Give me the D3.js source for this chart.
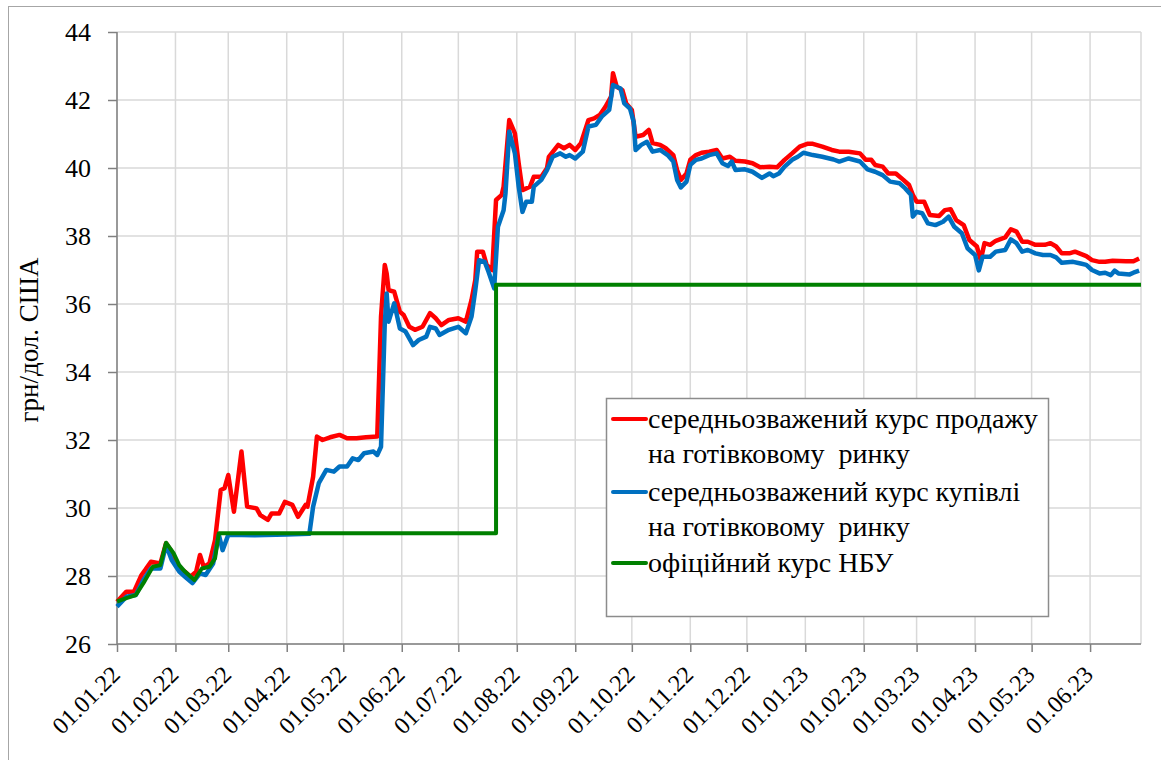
<!DOCTYPE html>
<html>
<head>
<meta charset="utf-8">
<script src="https://cdn.jsdelivr.net/npm/d3@7"></script>
<style>
  body { margin: 0; background: #fff; }
  svg text { font-family: "Liberation Serif", "Times New Roman", "DejaVu Serif", serif; fill: #000; }
</style>
</head>
<body>
<svg id="chart" width="1161" height="760"></svg>
<script>

////////// dados

// середньозважений курс продажу
const sellRate = [
  ['01.01.22',27.24],['06.01.22',27.54],['10.01.22',27.54],['14.01.22',28.03],['16.01.22',28.18],
  ['19.01.22',28.42],['24.01.22',28.37],['27.01.22',28.96],['30.01.22',28.71],['02.02.22',28.27],
  ['06.02.22',28.13],['09.02.22',27.98],['12.02.22',28.13],['14.02.22',28.62],['16.02.22',28.27],
  ['19.02.22',28.37],['22.02.22',29.06],['25.02.22',30.53],['27.02.22',30.58],['01.03.22',30.97],
  ['04.03.22',29.89],['08.03.22',31.66],['11.03.22',30.04],['16.03.22',29.99],['18.03.22',29.79],
  ['22.03.22',29.65],['24.03.22',29.84],['28.03.22',29.84],['31.03.22',30.18],['04.04.22',30.09],
  ['07.04.22',29.74],['11.04.22',30.09],['12.04.22',30.04],['15.04.22',30.92],['17.04.22',32.10],
  ['20.04.22',32.00],['24.04.22',32.08],['29.04.22',32.15],['03.05.22',32.05],['08.05.22',32.05],
  ['13.05.22',32.08],['19.05.22',32.10],['21.05.22',35.63],['23.05.22',37.15],['24.05.22',36.90],
  ['25.05.22',36.41],['28.05.22',36.36],['31.05.22',35.77],['02.06.22',35.68],['05.06.22',35.33],
  ['08.06.22',35.24],['12.06.22',35.33],['16.06.22',35.73],['19.06.22',35.58],['22.06.22',35.38],
  ['26.06.22',35.53],['01.07.22',35.58],['05.07.22',35.48],['08.07.22',36.12],['10.07.22',36.71],
  ['11.07.22',37.54],['14.07.22',37.54],['16.07.22',37.15],['19.07.22',37.00],['21.07.22',39.06],
  ['24.07.22',39.21],['25.07.22',39.45],['28.07.22',41.41],['31.07.22',41.02],['02.08.22',40.14],
  ['04.08.22',39.35],['08.08.22',39.45],['10.08.22',39.74],['14.08.22',39.74],['17.08.22',39.99],
  ['18.08.22',40.33],['23.08.22',40.68],['26.08.22',40.58],['29.08.22',40.68],['01.09.22',40.53],
  ['04.09.22',40.73],['08.09.22',41.41],['11.09.22',41.46],['14.09.22',41.56],['17.09.22',41.80],
  ['20.09.22',42.10],['21.09.22',42.79],['23.09.22',42.39],['26.09.22',42.29],['28.09.22',41.90],
  ['01.10.22',41.71],['03.10.22',40.92],['07.10.22',40.97],['10.10.22',41.12],['12.10.22',40.73],
  ['16.10.22',40.68],['19.10.22',40.58],['23.10.22',40.38],['25.10.22',39.94],['27.10.22',39.65],
  ['30.10.22',39.84],['01.11.22',40.24],['04.11.22',40.38],['07.11.22',40.45],['11.11.22',40.48],
  ['15.11.22',40.53],['18.11.22',40.28],['22.11.22',40.33],['25.11.22',40.21],['30.11.22',40.19],
  ['04.12.22',40.14],['08.12.22',40.02],['13.12.22',40.04],['17.12.22',40.02],['21.12.22',40.24],
  ['25.12.22',40.43],['29.12.22',40.63],['02.01.23',40.71],['05.01.23',40.71],['10.01.23',40.63],
  ['15.01.23',40.53],['19.01.23',40.48],['24.01.23',40.48],['30.01.23',40.43],['02.02.23',40.24],
  ['05.02.23',40.24],['07.02.23',40.09],['11.02.23',40.04],['14.02.23',39.84],['18.02.23',39.84],
  ['22.02.23',39.65],['25.02.23',39.50],['27.02.23',39.21],['01.03.23',39.01],['05.03.23',39.01],
  ['08.03.23',38.62],['13.03.23',38.59],['16.03.23',38.76],['19.03.23',38.79],['22.03.23',38.47],
  ['26.03.23',38.32],['29.03.23',37.88],['02.04.23',37.69],['04.04.23',37.29],['06.04.23',37.79],
  ['09.04.23',37.74],['12.04.23',37.86],['17.04.23',37.96],['20.04.23',38.20],['23.04.23',38.13],
  ['26.04.23',37.83],['29.04.23',37.83],['03.05.23',37.74],['08.05.23',37.74],['11.05.23',37.79],
  ['14.05.23',37.69],['17.05.23',37.49],['21.05.23',37.49],['24.05.23',37.54],['30.05.23',37.41],
  ['02.06.23',37.29],['06.06.23',37.24],['09.06.23',37.24],['13.06.23',37.27],['20.06.23',37.26],
  ['24.06.23',37.26],['27.06.23',37.34]
];

// середньозважений курс купівлі
const buyRate = [
  ['01.01.22',27.10],['06.01.22',27.39],['11.01.22',27.44],['15.01.22',27.88],['19.01.22',28.22],
  ['24.01.22',28.22],['27.01.22',28.91],['30.01.22',28.47],['03.02.22',28.13],['07.02.22',27.93],
  ['10.02.22',27.79],['14.02.22',28.08],['17.02.22',28.03],['21.02.22',28.37],['24.02.22',29.21],
  ['26.02.22',28.76],['01.03.22',29.21],['15.03.22',29.20],['01.04.22',29.22],['13.04.22',29.24],
  ['15.04.22',30.04],['18.04.22',30.73],['22.04.22',31.12],['26.04.22',31.07],['29.04.22',31.22],
  ['03.05.22',31.22],['06.05.22',31.46],['09.05.22',31.41],['12.05.22',31.61],['17.05.22',31.66],
  ['19.05.22',31.56],['21.05.22',31.80],['23.05.22',35.43],['24.05.22',36.31],['25.05.22',35.48],
  ['28.05.22',36.02],['31.05.22',35.28],['03.06.22',35.19],['07.06.22',34.79],['10.06.22',34.94],
  ['14.06.22',35.04],['16.06.22',35.33],['19.06.22',35.28],['21.06.22',35.09],['26.06.22',35.24],
  ['01.07.22',35.33],['05.07.22',35.14],['08.07.22',35.63],['10.07.22',36.41],['12.07.22',37.29],
  ['15.07.22',37.24],['17.07.22',36.95],['20.07.22',36.46],['22.07.22',38.27],['25.07.22',38.76],
  ['26.07.22',39.25],['28.07.22',41.07],['31.07.22',40.43],['02.08.22',39.45],['04.08.22',38.71],
  ['06.08.22',39.01],['09.08.22',39.01],['10.08.22',39.45],['14.08.22',39.65],['17.08.22',39.94],
  ['20.08.22',40.33],['24.08.22',40.43],['27.08.22',40.33],['29.08.22',40.38],['01.09.22',40.28],
  ['05.09.22',40.48],['08.09.22',41.22],['12.09.22',41.27],['15.09.22',41.51],['19.09.22',41.71],
  ['21.09.22',42.44],['25.09.22',42.34],['27.09.22',41.90],['30.09.22',41.75],['02.10.22',41.36],
  ['03.10.22',40.53],['06.10.22',40.68],['09.10.22',40.77],['12.10.22',40.48],['16.10.22',40.53],
  ['20.10.22',40.38],['23.10.22',40.19],['25.10.22',39.65],['27.10.22',39.43],['30.10.22',39.60],
  ['01.11.22',40.09],['04.11.22',40.24],['07.11.22',40.28],['11.11.22',40.38],['15.11.22',40.43],
  ['18.11.22',40.14],['21.11.22',40.06],['23.11.22',40.19],['25.11.22',39.94],['30.11.22',39.96],
  ['04.12.22',39.89],['09.12.22',39.71],['13.12.22',39.84],['15.12.22',39.76],['18.12.22',39.84],
  ['21.12.22',40.04],['25.12.22',40.24],['28.12.22',40.33],['31.12.22',40.45],['05.01.23',40.38],
  ['10.01.23',40.33],['16.01.23',40.25],['19.01.23',40.19],['24.01.23',40.28],['30.01.23',40.19],
  ['03.02.23',39.96],['07.02.23',39.89],['11.02.23',39.79],['15.02.23',39.60],['20.02.23',39.55],
  ['23.02.23',39.40],['26.02.23',39.21],['27.02.23',38.57],['01.03.23',38.71],['04.03.23',38.67],
  ['07.03.23',38.37],['11.03.23',38.32],['15.03.23',38.42],['18.03.23',38.57],['21.03.23',38.27],
  ['25.03.23',38.08],['28.03.23',37.64],['01.04.23',37.44],['03.04.23',36.99],['05.04.23',37.39],
  ['09.04.23',37.39],['12.04.23',37.54],['17.04.23',37.59],['20.04.23',37.90],['23.04.23',37.79],
  ['26.04.23',37.54],['29.04.23',37.59],['03.05.23',37.49],['07.05.23',37.44],['11.05.23',37.44],
  ['14.05.23',37.37],['17.05.23',37.21],['23.05.23',37.24],['27.05.23',37.19],['30.05.23',37.15],
  ['02.06.23',37.00],['06.06.23',36.90],['09.06.23',36.92],['12.06.23',36.85],['14.06.23',36.98],
  ['16.06.23',36.90],['22.06.23',36.87],['24.06.23',36.92],['27.06.23',36.98]
];

// офіційний курс НБУ
const nbuRate = [
  ['01.01.22',27.25],['06.01.22',27.35],['11.01.22',27.44],['15.01.22',27.79],['20.01.22',28.27],
  ['24.01.22',28.32],['27.01.22',28.98],['31.01.22',28.67],['03.02.22',28.32],['06.02.22',28.13],
  ['11.02.22',27.88],['15.02.22',28.22],['19.02.22',28.27],['22.02.22',28.52],['24.02.22',29.2549],
  ['21.07.22',29.2549],['21.07.22',36.5686],['28.06.23',36.5686]
];

const yTicks = [26, 28, 30, 32, 34, 36, 38, 40, 42, 44];

const seriesNames = [
  ['середньозважений курс продажу', 'на готівковому  ринку'],
  ['середньозважений курс купівлі', 'на готівковому  ринку'],
  ['офіційний курс НБУ']
];
const seriesColors = ['#ff0000', '#0070c0', '#008000'];

////////// escalas

const parseDate = d3.timeParse('%d.%m.%y');
const fmtDate = d3.timeFormat('%d.%m.%y');
const serif = '"Liberation Serif", "Times New Roman", "DejaVu Serif", serif';

const margin = {left: 117, top: 32, right: 1141, bottom: 644};

let x = d3.scaleTime()
    .domain([parseDate('01.01.22'), parseDate('28.06.23')])
    .range([margin.left, margin.right]);

let y = d3.scaleLinear()
    .domain([26, 44])
    .range([margin.bottom, margin.top]);

const svg = d3.select('#chart');

// moldura externa
svg
.append('rect')
.attr('x', 8.5)
.attr('y', 6.5)
.attr('width', 1170)
.attr('height', 780)
.attr('fill', 'none')
.attr('stroke', '#a6a6a6')
.attr('stroke-width', 1)
;

////////// grade

const monthTicks = x.ticks(d3.timeMonth.every(1));

svg.append('g')
.selectAll('line.vgrid')
.data(monthTicks.concat([x.domain()[1]]))
.join('line')
.attr('x1', d => x(d)).attr('x2', d => x(d))
.attr('y1', margin.top).attr('y2', margin.bottom)
.attr('stroke', '#d9d9d9')
.attr('stroke-width', 1.5)
;

svg.append('g')
.selectAll('line.hgrid')
.data(yTicks)
.join('line')
.attr('x1', margin.left).attr('x2', margin.right)
.attr('y1', d => y(d)).attr('y2', d => y(d))
.attr('stroke', '#d9d9d9')
.attr('stroke-width', 1.5)
;

////////// eixos

let yAxis = svg.append('g')
    .attr('transform', 'translate(' + margin.left + ',0)')
    .attr('font-family', serif)
    .call(d3.axisLeft(y).tickValues(yTicks).tickSize(9).tickPadding(17).tickFormat(d3.format('d')));

let xAxis = svg.append('g')
    .attr('transform', 'translate(0,' + margin.bottom + ')')
    .attr('font-family', serif)
    .call(d3.axisBottom(x).tickValues(monthTicks).tickSize(8).tickFormat(fmtDate));

[yAxis, xAxis].forEach(ax => {
  ax.select('.domain').attr('stroke', '#808080').attr('stroke-width', 1.5);
  ax.selectAll('.tick line').attr('stroke', '#808080').attr('stroke-width', 1.5);
});

// domain sem as pontinhas
xAxis.select('.domain').attr('d', 'M' + margin.left + ',0H' + margin.right);
yAxis.select('.domain').attr('d', 'M0,' + margin.bottom + 'V' + margin.top);

yAxis.selectAll('.tick text')
.attr('font-size', 26)
.style('font-size', '26px')
;

xAxis.selectAll('.tick text')
.style('font-size', '24px')
.attr('text-anchor', 'end')
.attr('y', 0)
.attr('dy', 0)
.attr('transform', 'translate(4,32) rotate(-45)')
;

// título do eixo Y
svg
.append('text')
.attr('transform', 'translate(38,' + 340 + ') rotate(-90)')
.attr('text-anchor', 'middle')
.style('font-size', '27px')
.text('грн/дол. США')
;

////////// linhas

let line = d3.line()
    .x(d => x(parseDate(d[0])))
    .y(d => y(d[1]));

[sellRate, buyRate, nbuRate].forEach((s, i) => {
  svg
  .append('path')
  .datum(s)
  .attr('d', line)
  .attr('fill', 'none')
  .attr('stroke', seriesColors[i])
  .attr('stroke-width', i === 2 ? 4 : 4.5)
  .attr('stroke-linejoin', 'round')
  ;
});

////////// legenda

const legend = svg.append('g');

legend
.append('rect')
.attr('x', 606.5).attr('y', 398.5)
.attr('width', 442).attr('height', 218)
.attr('fill', '#fff')
.attr('stroke', '#8c8c8c')
.attr('stroke-width', 1.5)
;

const legendRows = [419, 492, 563];

seriesNames.forEach((names, i) => {
  legend
  .append('line')
  .attr('x1', 613).attr('x2', 646)
  .attr('y1', legendRows[i]).attr('y2', legendRows[i])
  .attr('stroke', seriesColors[i])
  .attr('stroke-width', 4)
  .attr('stroke-linecap', 'round')
  ;
  names.forEach((t, j) => {
    legend
    .append('text')
    .attr('x', 648)
    .attr('y', legendRows[i] + 9 + j * 35)
    .style('font-size', '28px')
    .style('white-space', 'pre')
    .text(t)
    ;
  });
});

</script>
</body>
</html>
